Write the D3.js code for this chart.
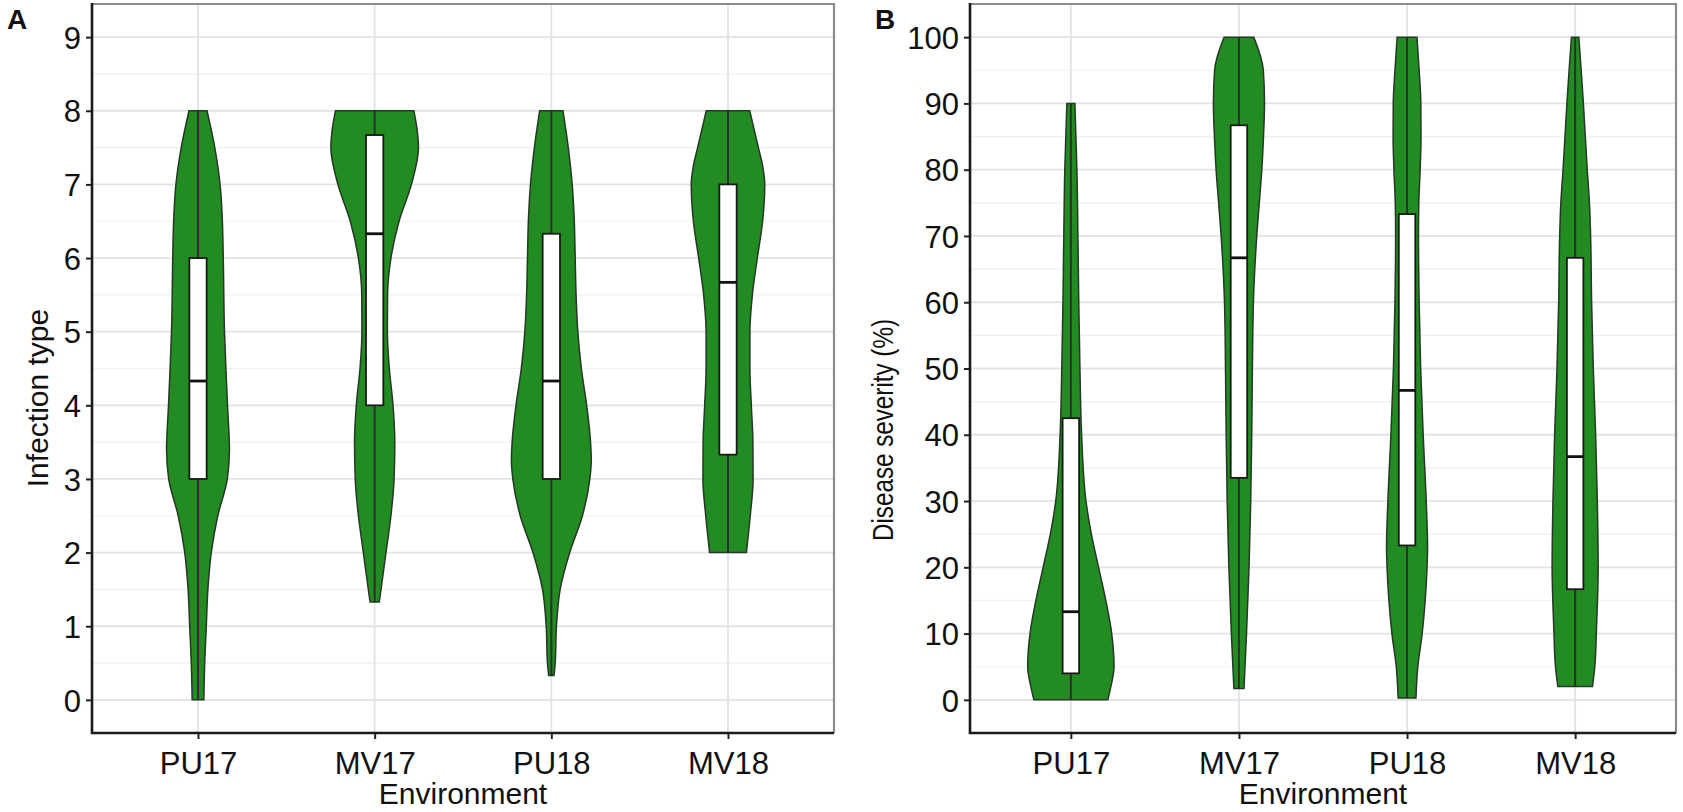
<!DOCTYPE html>
<html lang="en">
<head>
<meta charset="UTF-8"/>
<title>Violin plots - infection type and disease severity</title>
<script src="https://d3js.org/d3.v7.min.js"></script>
<style>
  body { margin: 0; background: #fff; }
  text { font-family: "Liberation Sans", Arial, sans-serif; fill: #111; }
</style>
</head>
<body>
<div id="chart"></div>
<script>
// categories on the x axis (both panels)
var environments = ["PU17", "MV17", "PU18", "MV18"];

// panel A: infection type, y ticks
var ticksA = [0, 1, 2, 3, 4, 5, 6, 7, 8, 9];
// box stats per environment: [q1, median, q3], whisker = [min, max]
var boxA = [[3, 4.33, 6], [4, 6.33, 7.67], [3, 4.33, 6.33], [3.33, 5.67, 7]];
var rangeA = [[0, 8], [1.33, 8], [0.33, 8], [2, 8]];
// violin half-width (in category steps) at given values
var violinA_PU17 = [[0,0.033],[0.5,0.038],[1,0.047],[1.5,0.056],[2,0.075],[2.5,0.112],[3,0.166],[3.4,0.178],[4,0.167],[4.5,0.158],[5,0.150],[6,0.143],[6.5,0.138],[7,0.125],[7.5,0.095],[8,0.051]];
var violinA_MV17 = [[1.33,0.026],[1.5,0.036],[2,0.064],[2.5,0.092],[3,0.110],[3.5,0.114],[4,0.104],[4.5,0.083],[5,0.072],[5.5,0.073],[6,0.092],[6.5,0.138],[7,0.208],[7.5,0.248],[7.75,0.240],[8,0.222]];
var violinA_PU18 = [[0.33,0.015],[0.5,0.022],[1,0.029],[1.5,0.050],[2,0.104],[2.5,0.176],[3,0.218],[3.25,0.226],[3.5,0.222],[4,0.200],[4.5,0.170],[5,0.150],[5.5,0.140],[6,0.135],[6.5,0.130],[7,0.118],[7.5,0.096],[8,0.066]];
var violinA_MV18 = [[2,0.104],[2.5,0.126],[3,0.142],[3.5,0.141],[4,0.132],[4.5,0.124],[5,0.124],[5.5,0.138],[6,0.166],[6.5,0.196],[7,0.208],[7.25,0.196],[7.5,0.172],[8,0.123]];

// panel B: disease severity (%)
var ticksB = [0, 10, 20, 30, 40, 50, 60, 70, 80, 90, 100];
var boxB = [[4, 13.3, 42.5], [33.5, 66.7, 86.7], [23.3, 46.7, 73.3], [16.7, 36.7, 66.7]];
var rangeB = [[0, 90], [1.7, 100], [0.3, 100], [2, 100]];
var violinB_PU17 = [[0,0.220],[2,0.238],[5,0.257],[10,0.243],[15,0.208],[20,0.165],[25,0.122],[30,0.090],[40,0.064],[50,0.054],[60,0.047],[70,0.042],[80,0.036],[85,0.030],[90,0.024]];
var violinB_MV17 = [[1.7,0.030],[5,0.036],[10,0.045],[20,0.060],[30,0.070],[40,0.076],[50,0.080],[60,0.086],[70,0.106],[75,0.121],[80,0.136],[85,0.146],[90,0.152],[95,0.145],[100,0.088]];
var violinB_PU18 = [[0.3,0.053],[5,0.064],[10,0.090],[15,0.108],[20,0.119],[23,0.122],[30,0.114],[40,0.096],[50,0.081],[60,0.072],[70,0.068],[75,0.070],[80,0.078],[85,0.083],[90,0.082],[95,0.072],[100,0.059]];
var violinB_MV18 = [[2,0.103],[5,0.117],[10,0.126],[15,0.133],[20,0.137],[30,0.132],[40,0.122],[50,0.108],[60,0.098],[70,0.092],[75,0.085],[80,0.072],[90,0.049],[95,0.036],[100,0.022]];

var w = 1683, h = 812;
var boxHalf = 0.049;   // half box width in category steps

var svg = d3.select("#chart").append("svg")
  .attr("width", w).attr("height", h);

function drawPanel(p) {
  var x = d3.scalePoint().domain(environments).range([p.left, p.right]).padding(0.6);
  var y = d3.scaleLinear().domain(p.domain).range([733, 4]);
  var step = x.step();
  var g = svg.append("g");

  // minor grid
  g.selectAll(".minor").data(p.minor).enter().append("line")
    .attr("x1", p.left).attr("x2", p.right)
    .attr("y1", function(d){ return y(d); }).attr("y2", function(d){ return y(d); })
    .attr("stroke", "#f0f0f0").attr("stroke-width", 1.2);
  // major grid
  g.selectAll(".major").data(p.ticks).enter().append("line")
    .attr("x1", p.left).attr("x2", p.right)
    .attr("y1", function(d){ return y(d); }).attr("y2", function(d){ return y(d); })
    .attr("stroke", "#e3e3e3").attr("stroke-width", 1.8);
  g.selectAll(".vgrid").data(environments).enter().append("line")
    .attr("x1", function(d){ return x(d); }).attr("x2", function(d){ return x(d); })
    .attr("y1", 4).attr("y2", 733)
    .attr("stroke", "#e3e3e3").attr("stroke-width", 1.8);

  // violins
  p.violins.forEach(function(v, i) {
    var cx = x(environments[i]);
    var area = d3.area()
      .curve(d3.curveMonotoneY)
      .y(function(d){ return y(d[0]); })
      .x0(function(d){ return cx - d[1] * step; })
      .x1(function(d){ return cx + d[1] * step; });
    g.append("path").datum(v)
      .attr("d", area)
      .attr("fill", "#228B22")
      .attr("stroke", "#263826")
      .attr("stroke-width", 1.5);

    // whisker line through the violin
    g.append("line")
      .attr("x1", cx).attr("x2", cx)
      .attr("y1", y(p.range[i][0])).attr("y2", y(p.range[i][1]))
      .attr("stroke", "#2e2e2e").attr("stroke-width", 2);

    var b = p.box[i];
    g.append("rect")
      .attr("x", cx - boxHalf * step)
      .attr("y", y(b[2]))
      .attr("width", 2 * boxHalf * step)
      .attr("height", y(b[0]) - y(b[2]))
      .attr("fill", "#fff").attr("stroke", "#1a1a1a").attr("stroke-width", 1.8);
    g.append("line")
      .attr("x1", cx - boxHalf * step).attr("x2", cx + boxHalf * step)
      .attr("y1", y(b[1])).attr("y2", y(b[1]))
      .attr("stroke", "#111").attr("stroke-width", 2.8);
  });

  // panel border: top and right grey
  g.append("path")
    .attr("d", "M" + p.left + ",4H" + p.right + "V733")
    .attr("fill", "none").attr("stroke", "#8c8c8c").attr("stroke-width", 2.2);

  // axes
  var yAxis = d3.axisLeft(y).tickValues(p.ticks).tickSize(6).tickPadding(5);
  var ga = g.append("g").attr("transform", "translate(" + p.left + ",0)").call(yAxis);
  var xAxis = d3.axisBottom(x).tickSize(6).tickPadding(6);
  var gb = g.append("g").attr("transform", "translate(0,733)").call(xAxis);
  [ga, gb].forEach(function(ax) {
    ax.select(".domain").remove();
    ax.selectAll(".tick line").attr("stroke", "#222").attr("stroke-width", 2);
    ax.selectAll(".tick text").style("font-size", "31px").attr("fill", "#111");
  });
  gb.selectAll(".tick text").attr("dy", "0.93em");
  ga.selectAll(".tick text").attr("dy", "0.36em");
  g.append("path")
    .attr("d", "M" + p.left + ",3V733H" + p.right)
    .attr("fill", "none").attr("stroke", "#1a1a1a").attr("stroke-width", 2.6);

  // titles
  var t = g.append("text")
    .attr("transform", "translate(" + p.titleX + "," + p.titleY + ") rotate(-90)")
    .attr("text-anchor", "middle")
    .style("font-size", p.titleSize + "px")
    .text(p.title);
  if (p.titleLen) t.attr("textLength", p.titleLen).attr("lengthAdjust", "spacingAndGlyphs");
  g.append("text")
    .attr("x", (p.left + p.right) / 2).attr("y", 804)
    .attr("text-anchor", "middle")
    .style("font-size", "30px")
    .text("Environment");
  g.append("text")
    .attr("x", p.tagX).attr("y", 29)
    .style("font-size", "28px").style("font-weight", "bold")
    .text(p.tag);
}

drawPanel({
  left: 92, right: 834, domain: [-0.45, 9.45],
  ticks: ticksA, minor: d3.range(0.5, 9, 1),
  violins: [violinA_PU17, violinA_MV17, violinA_PU18, violinA_MV18],
  box: boxA, range: rangeA,
  title: "Infection type", titleX: 48, titleY: 398, titleSize: 30, tag: "A", tagX: 7
});
drawPanel({
  left: 970, right: 1676, domain: [-5, 105],
  ticks: ticksB, minor: d3.range(5, 100, 10),
  violins: [violinB_PU17, violinB_MV17, violinB_PU18, violinB_MV18],
  box: boxB, range: rangeB,
  title: "Disease severity (%)", titleX: 893, titleY: 430, titleSize: 29, titleLen: 222,
  tag: "B", tagX: 875
});
</script>
</body>
</html>
